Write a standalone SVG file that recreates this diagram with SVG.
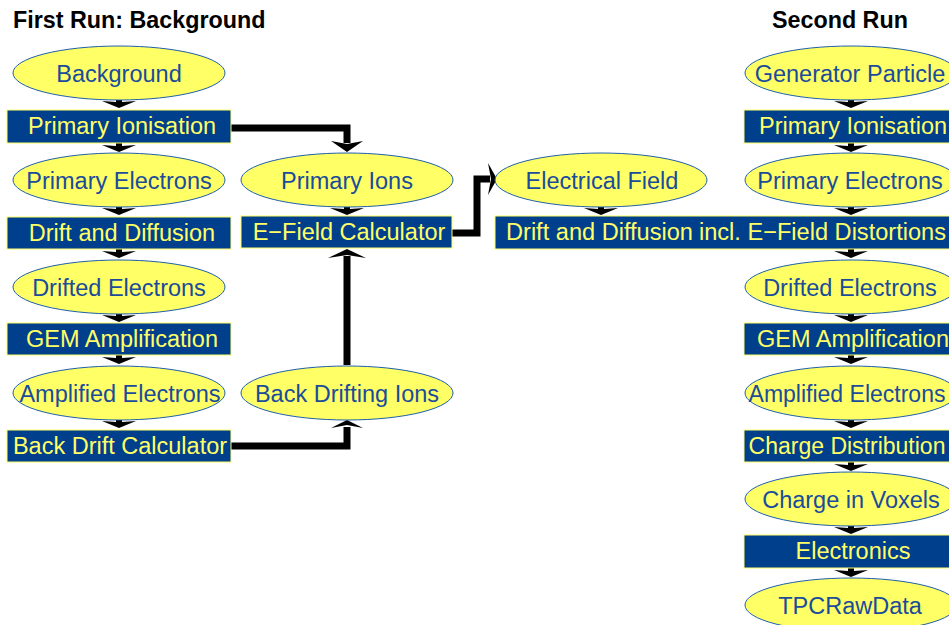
<svg xmlns="http://www.w3.org/2000/svg" width="949" height="625" viewBox="0 0 949 625">
<style>
.el{fill:#ffff66;stroke:#1f5fa8;stroke-width:1}
.bx{fill:#003f8c;stroke:#ffff66;stroke-width:1}
.et{font-family:"Liberation Sans",Arial,sans-serif;font-size:23.5px;fill:#1a4c9a;text-anchor:middle}
.bt{font-family:"Liberation Sans",Arial,sans-serif;font-size:23.5px;fill:#ffff66;text-anchor:middle}
.ti{font-family:"Liberation Sans",Arial,sans-serif;font-size:23.3px;font-weight:bold;fill:#000}
.ln{fill:none;stroke:#000;stroke-width:7;stroke-linejoin:miter}
.ah{fill:#000}
</style>
<defs>
<path id="da" d="M-3,-2 H3 V2 L17,1 L0,8 L-17,1 L-3,2 Z"/>
</defs>
<rect width="949" height="625" fill="#fff"/>
<text class="ti" x="13" y="28">First Run: Background</text>
<text class="ti" x="772" y="28">Second Run</text>

<g id="connectors">
<use href="#da" x="119" y="100" class="ah"/>
<use href="#da" x="119" y="144" class="ah"/>
<use href="#da" x="119" y="207" class="ah"/>
<use href="#da" x="119" y="250" class="ah"/>
<use href="#da" x="119" y="314" class="ah"/>
<use href="#da" x="119" y="356" class="ah"/>
<use href="#da" x="119" y="420" class="ah"/>
<use href="#da" x="347" y="207" class="ah"/>
<use href="#da" x="601" y="207" class="ah"/>
<use href="#da" x="851" y="100" class="ah"/>
<use href="#da" x="851" y="144" class="ah"/>
<use href="#da" x="851" y="207" class="ah"/>
<use href="#da" x="851" y="250" class="ah"/>
<use href="#da" x="851" y="314" class="ah"/>
<use href="#da" x="851" y="356" class="ah"/>
<use href="#da" x="851" y="420" class="ah"/>
<use href="#da" x="851" y="463" class="ah"/>
<use href="#da" x="851" y="526" class="ah"/>
<use href="#da" x="851" y="569" class="ah"/>
<path class="ln" d="M231,128 H347 V143"/>
<path class="ah" d="M331,141 L347,144 L363,141 L347,152 Z"/>
<path class="ln" d="M231,446 H347 V427"/>
<path class="ah" d="M331,428 L347,425 L363,428 L347,420 Z"/>
<path class="ln" d="M347,365 V256"/>
<path class="ah" d="M328,258 L347,255 L366,258 L347,249 Z"/>
<path class="ln" d="M452,233 H477 V179 H490"/>
<path class="ah" d="M488,163 L491,179 L488,195 L497,179 Z"/>
</g>

<g id="n-background"><ellipse class="el" cx="119" cy="73" rx="106" ry="27"/><text class="et" x="119" y="82">Background</text></g>
<g id="n-primary-ionisation-1"><rect class="bx" x="7" y="110" width="224" height="33"/><text class="bt" x="122" y="134">Primary Ionisation</text></g>
<g id="n-primary-electrons-1"><ellipse class="el" cx="119" cy="180" rx="106" ry="27"/><text class="et" x="119" y="189">Primary Electrons</text></g>
<g id="n-drift-diffusion-1"><rect class="bx" x="7" y="217" width="224" height="32"/><text class="bt" x="122" y="241">Drift and Diffusion</text></g>
<g id="n-drifted-electrons-1"><ellipse class="el" cx="119" cy="287" rx="106" ry="27"/><text class="et" x="119" y="296">Drifted Electrons</text></g>
<g id="n-gem-1"><rect class="bx" x="7" y="323" width="224" height="32"/><text class="bt" x="122" y="347">GEM Amplification</text></g>
<g id="n-amplified-electrons-1"><ellipse class="el" cx="119" cy="393" rx="106" ry="27"/><text class="et" x="120" y="402">Amplified Electrons</text></g>
<g id="n-back-drift-calc"><rect class="bx" x="7" y="430" width="224" height="32"/><text class="bt" x="120" y="454">Back Drift Calculator</text></g>

<g id="n-primary-ions"><ellipse class="el" cx="347" cy="180" rx="106" ry="27"/><text class="et" x="347" y="189">Primary Ions</text></g>
<g id="n-efield-calc"><rect class="bx" x="241" y="216" width="211" height="32"/><text class="bt" x="349" y="240">E−Field Calculator</text></g>
<g id="n-back-drifting-ions"><ellipse class="el" cx="347" cy="393" rx="106" ry="27"/><text class="et" x="347" y="402">Back Drifting Ions</text></g>

<g id="n-electrical-field"><ellipse class="el" cx="601" cy="180" rx="106" ry="27"/><text class="et" x="602" y="189">Electrical Field</text></g>
<g id="n-drift-diffusion-2"><rect class="bx" x="495" y="216" width="470" height="33"/><text class="bt" x="506" y="240" style="text-anchor:start" textLength="440" lengthAdjust="spacingAndGlyphs">Drift and Diffusion<tspan dx="6">incl. E−Field Distortions</tspan></text></g>

<g id="n-generator-particle"><ellipse class="el" cx="851" cy="73" rx="106" ry="27"/><text class="et" x="850" y="82">Generator Particle</text></g>
<g id="n-primary-ionisation-2"><rect class="bx" x="744" y="110" width="220" height="33"/><text class="bt" x="853" y="134">Primary Ionisation</text></g>
<g id="n-primary-electrons-2"><ellipse class="el" cx="851" cy="180" rx="106" ry="27"/><text class="et" x="850" y="189">Primary Electrons</text></g>
<g id="n-drifted-electrons-2"><ellipse class="el" cx="851" cy="287" rx="106" ry="27"/><text class="et" x="850" y="296">Drifted Electrons</text></g>
<g id="n-gem-2"><rect class="bx" x="744" y="323" width="220" height="32"/><text class="bt" x="853" y="347">GEM Amplification</text></g>
<g id="n-amplified-electrons-2"><ellipse class="el" cx="851" cy="393" rx="106" ry="27"/><text class="et" x="847" y="402" style="font-size:23px">Amplified Electrons</text></g>
<g id="n-charge-distribution"><rect class="bx" x="744" y="430" width="220" height="32"/><text class="bt" x="847" y="454" style="font-size:23px">Charge Distribution</text></g>
<g id="n-charge-voxels"><ellipse class="el" cx="851" cy="499" rx="106" ry="27"/><text class="et" x="851" y="508">Charge in Voxels</text></g>
<g id="n-electronics"><rect class="bx" x="744" y="535" width="220" height="33"/><text class="bt" x="853" y="559">Electronics</text></g>
<g id="n-tpcrawdata"><ellipse class="el" cx="851" cy="605" rx="106" ry="27"/><text class="et" x="850" y="614">TPCRawData</text></g>
</svg>
